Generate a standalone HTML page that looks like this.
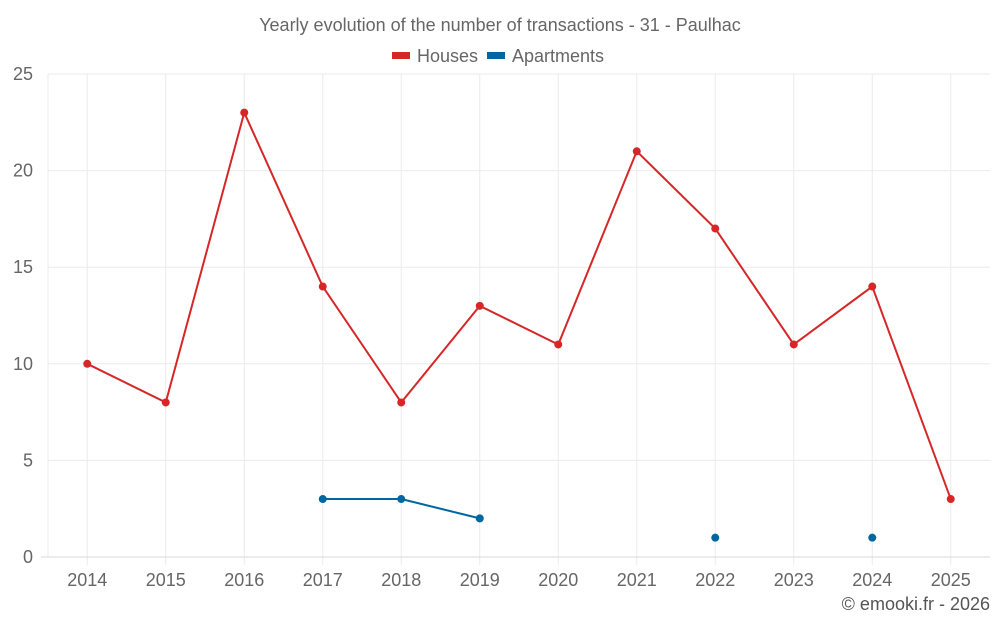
<!DOCTYPE html>
<html><head><meta charset="utf-8"><style>
body{margin:0;background:#fff;font-family:"Liberation Sans",sans-serif;}
svg text{font-family:"Liberation Sans",sans-serif;}
</style></head><body>
<svg id="chart" width="1000" height="625" viewBox="0 0 1000 625" xmlns="http://www.w3.org/2000/svg">
<text x="500" y="31" text-anchor="middle" font-size="18" fill="#666">Yearly evolution of the number of transactions - 31 - Paulhac</text>
<g>
<g><rect x="392" y="52" width="18" height="7" fill="#d62728"/><text x="417" y="62" font-size="18" fill="#666">Houses</text></g>
<g><rect x="487" y="52" width="18" height="7" fill="#0066a0"/><text x="512" y="62" font-size="18" fill="#666">Apartments</text></g>
</g>
<g id="grid"></g>
<g id="axes"></g>
<g id="series"></g>
<text x="990" y="610" text-anchor="end" font-size="18" fill="#555">© emooki.fr - 2026</text>
</svg>
<script>
const categories=["2014","2015","2016","2017","2018","2019","2020","2021","2022","2023","2024","2025"];
const houses=[10,8,23,14,8,13,11,21,17,11,14,3];
const apartments=[null,null,null,3,3,2,null,null,1,null,1,null];
const yTicks=[0,5,10,15,20,25];
const NS="http://www.w3.org/2000/svg";
const L=48,R=990,T=74,B=557,yMax=25;
const bw=(R-L)/categories.length;
const x=i=>L+bw*(i+0.5);
const y=v=>B-(v/yMax)*(B-T);
function mk(tag,attrs,parent){const e=document.createElementNS(NS,tag);for(const k in attrs)e.setAttribute(k,attrs[k]);parent.appendChild(e);return e;}
const grid=document.getElementById('grid'),axes=document.getElementById('axes'),series=document.getElementById('series');
yTicks.forEach(t=>{
 if(t>0){const g=mk('line',{x1:L,x2:R,y1:y(t),y2:y(t),stroke:'#ebebeb','stroke-width':1},grid);}
 const tx=mk('text',{x:33,y:y(t)+6,'text-anchor':'end','font-size':18,fill:'#666'},axes);tx.textContent=t;
 
});
const lv=mk('line',{x1:L,x2:L,y1:T,y2:B,stroke:'#ebebeb'},grid);

categories.forEach((c,i)=>{
 const g=mk('line',{x1:x(i),x2:x(i),y1:T,y2:B+8,stroke:'#ebebeb'},grid);
 
 const tx=mk('text',{x:x(i),y:586,'text-anchor':'middle','font-size':18,fill:'#666'},axes);tx.textContent=c;
 
});
const ax=mk('line',{x1:41,x2:R,y1:B,y2:B,stroke:'#d9d9d9'},axes);

function draw(vals,color,name){
 let seg=[];
 const flush=()=>{if(seg.length>1){const p=mk('polyline',{points:seg.join(' '),fill:'none',stroke:color,'stroke-width':2},series);}seg=[];};
 vals.forEach((v,i)=>{if(v==null){flush();return;}seg.push(x(i)+','+y(v));});
 flush();
 vals.forEach((v,i)=>{if(v==null)return;const c=mk('circle',{cx:x(i),cy:y(v),r:4,fill:color},series);});
}
draw(houses,'#d62728','houses');
draw(apartments,'#0066a0','apartments');
</script>
</body></html>
